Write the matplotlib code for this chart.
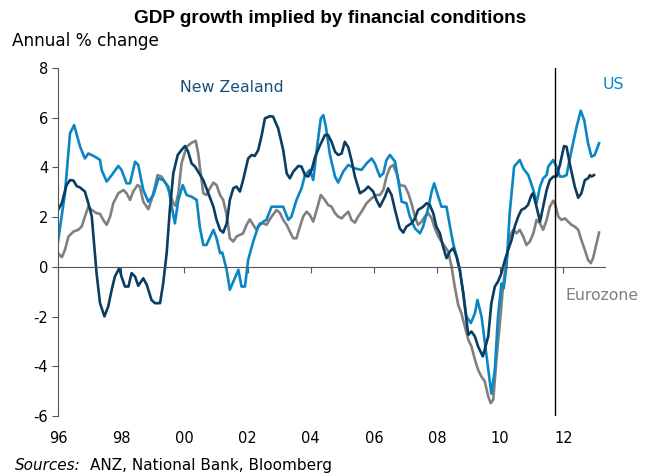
import matplotlib
matplotlib.use("Agg")
import matplotlib.pyplot as plt

plt.rcParams['axes.unicode_minus'] = False
plt.rcParams['font.family'] = ['DejaVu Sans']

# values (year, annual % change)
us_x = [1996.00, 1996.22, 1996.38, 1996.51, 1996.70, 1996.85, 1996.96, 1997.17, 1997.33, 1997.38,
        1997.54, 1997.70, 1997.91, 1998.01, 1998.17, 1998.28, 1998.44, 1998.54, 1998.70, 1998.86,
        1999.02, 1999.18, 1999.33, 1999.49, 1999.60, 1999.70, 1999.81, 1999.95, 2000.07, 2000.23,
        2000.39, 2000.49, 2000.60, 2000.70, 2000.92, 2001.02, 2001.13, 2001.20, 2001.34, 2001.44,
        2001.55, 2001.71, 2001.81, 2001.92, 2002.02, 2002.18, 2002.34, 2002.50, 2002.60, 2002.76,
        2002.92, 2003.13, 2003.29, 2003.39, 2003.55, 2003.71, 2003.82, 2003.97, 2004.08, 2004.19,
        2004.32, 2004.40, 2004.48, 2004.61, 2004.77, 2004.87, 2005.03, 2005.19, 2005.40, 2005.61,
        2005.77, 2005.93, 2006.03, 2006.19, 2006.30, 2006.40, 2006.51, 2006.67, 2006.77, 2006.88,
        2007.03, 2007.14, 2007.30, 2007.46, 2007.56, 2007.72, 2007.83, 2007.91, 2008.04, 2008.14,
        2008.30, 2008.41, 2008.51, 2008.62, 2008.72, 2008.83, 2008.93, 2009.07, 2009.20, 2009.28,
        2009.41, 2009.57, 2009.72, 2009.83, 2009.93, 2010.04, 2010.11, 2010.20, 2010.30, 2010.38,
        2010.44, 2010.62, 2010.73, 2010.89, 2011.05, 2011.15, 2011.26, 2011.36, 2011.47, 2011.52,
        2011.68, 2011.78, 2011.89, 2011.99, 2012.10, 2012.26, 2012.42, 2012.55, 2012.66, 2012.78,
        2012.89, 2012.99, 2013.13]
us_y = [1.02, 2.96, 5.37, 5.70, 4.83, 4.36, 4.56, 4.43, 4.30, 3.90,
        3.43, 3.69, 4.06, 3.90, 3.36, 3.36, 4.23, 4.10, 3.09, 2.62,
        2.89, 3.56, 3.49, 3.23, 2.42, 1.75, 2.69, 3.29, 2.89, 2.82,
        2.69, 1.60, 0.88, 0.88, 1.49, 1.15, 0.55, 0.58, -0.12, -0.92,
        -0.59, -0.12, -0.79, -0.79, 0.28, 1.02, 1.62, 1.82, 1.89, 2.42,
        2.42, 2.42, 1.89, 2.02, 2.69, 3.16, 3.69, 3.90, 3.49, 4.70,
        5.97, 6.10, 5.64, 4.50, 3.63, 3.39, 3.83, 4.10, 3.96, 3.90,
        4.16, 4.36, 4.16, 3.63, 3.76, 4.30, 4.50, 4.23, 3.49, 2.62,
        2.56, 2.02, 1.55, 1.35, 1.62, 2.36, 3.03, 3.36, 2.82, 2.42,
        2.42, 1.62, 0.95, 0.41, -0.12, -1.06, -1.99, -2.26, -1.86, -1.33,
        -2.00, -3.60, -5.10, -4.14, -2.00, -0.67, -0.86, 0.01, 2.16, 3.23,
        4.03, 4.30, 3.96, 3.69, 3.09, 2.56, 3.23, 3.56, 3.69, 4.03,
        4.30, 4.03, 3.63, 3.63, 3.69, 4.70, 5.64, 6.28, 5.90, 4.97,
        4.43, 4.50, 4.97]

nz_x = [1996.00, 1996.12, 1996.27, 1996.38, 1996.49, 1996.59, 1996.70, 1996.85, 1996.96, 1997.07,
        1997.15, 1997.22, 1997.33, 1997.47, 1997.59, 1997.70, 1997.80, 1997.94, 1998.01, 1998.12,
        1998.23, 1998.33, 1998.44, 1998.54, 1998.70, 1998.81, 1998.96, 1999.07, 1999.23, 1999.33,
        1999.44, 1999.54, 1999.65, 1999.79, 1999.91, 2000.02, 2000.12, 2000.23, 2000.34, 2000.47,
        2000.60, 2000.76, 2000.92, 2001.02, 2001.13, 2001.23, 2001.34, 2001.44, 2001.55, 2001.65,
        2001.76, 2001.86, 2002.02, 2002.13, 2002.23, 2002.34, 2002.45, 2002.55, 2002.71, 2002.81,
        2002.97, 2003.13, 2003.24, 2003.34, 2003.45, 2003.61, 2003.71, 2003.82, 2003.92, 2004.03,
        2004.14, 2004.30, 2004.45, 2004.55, 2004.66, 2004.77, 2004.87, 2004.98, 2005.08, 2005.19,
        2005.29, 2005.40, 2005.56, 2005.72, 2005.82, 2005.98, 2006.08, 2006.19, 2006.35, 2006.45,
        2006.56, 2006.67, 2006.82, 2006.93, 2007.03, 2007.19, 2007.30, 2007.40, 2007.56, 2007.67,
        2007.77, 2007.88, 2007.98, 2008.09, 2008.19, 2008.30, 2008.41, 2008.51, 2008.62, 2008.72,
        2008.83, 2008.93, 2008.99, 2009.09, 2009.20, 2009.30, 2009.45, 2009.62, 2009.72, 2009.83,
        2009.93, 2010.04, 2010.15, 2010.25, 2010.36, 2010.46, 2010.57, 2010.67, 2010.78, 2010.88,
        2010.99, 2011.04, 2011.15, 2011.26, 2011.36, 2011.47, 2011.57, 2011.68, 2011.78, 2011.89,
        2012.02, 2012.10, 2012.20, 2012.36, 2012.47, 2012.57, 2012.68, 2012.78, 2012.84, 2012.89,
        2012.97]
nz_y = [2.29, 2.56, 3.29, 3.49, 3.47, 3.25, 3.19, 3.03, 2.56, 2.02,
        0.82, -0.25, -1.46, -1.99, -1.59, -0.92, -0.39, -0.05, -0.39, -0.79,
        -0.79, -0.25, -0.39, -0.76, -0.46, -0.72, -1.33, -1.46, -1.46, -0.66,
        0.55, 2.29, 3.76, 4.50, 4.70, 4.86, 4.63, 4.16, 4.03, 3.76,
        3.49, 2.96, 2.42, 1.89, 1.49, 1.38, 1.75, 2.69, 3.16, 3.23,
        3.03, 3.49, 4.36, 4.50, 4.46, 4.70, 5.30, 5.97, 6.06, 6.04,
        5.57, 4.70, 3.76, 3.56, 3.83, 4.06, 4.03, 3.69, 3.63, 3.90,
        4.43, 4.90, 5.30, 5.30, 5.03, 4.63, 4.50, 4.56, 5.03, 4.81,
        4.30, 3.63, 2.96, 3.09, 3.23, 3.03, 2.69, 2.42, 2.82, 3.16,
        2.89, 2.29, 1.55, 1.38, 1.62, 1.75, 1.95, 2.29, 2.42, 2.56,
        2.49, 2.16, 1.62, 1.35, 0.82, 0.35, 0.62, 0.75, 0.41, -0.12,
        -1.06, -2.13, -2.73, -2.60, -2.80, -3.20, -3.60, -2.80, -1.46, -0.79,
        -0.59, -0.25, 0.28, 0.68, 1.08, 1.62, 2.02, 2.29, 2.36, 2.49,
        2.89, 2.96, 2.42, 1.82, 2.42, 3.09, 3.49, 3.63, 3.63, 4.10,
        4.86, 4.83, 4.16, 3.23, 2.78, 2.96, 3.49, 3.56, 3.69, 3.63,
        3.69]

ez_x = [1996.00, 1996.12, 1996.22, 1996.33, 1996.49, 1996.64, 1996.75, 1996.85, 1996.96, 1997.07,
        1997.22, 1997.33, 1997.43, 1997.54, 1997.65, 1997.75, 1997.91, 1998.07, 1998.17, 1998.28,
        1998.38, 1998.52, 1998.59, 1998.70, 1998.86, 1998.96, 1999.07, 1999.15, 1999.28, 1999.44,
        1999.54, 1999.65, 1999.72, 1999.81, 1999.91, 2000.07, 2000.23, 2000.36, 2000.44, 2000.49,
        2000.60, 2000.70, 2000.81, 2000.92, 2001.02, 2001.13, 2001.23, 2001.34, 2001.44, 2001.55,
        2001.65, 2001.76, 2001.86, 2001.97, 2002.07, 2002.18, 2002.28, 2002.39, 2002.50, 2002.60,
        2002.76, 2002.92, 2003.03, 2003.13, 2003.24, 2003.34, 2003.45, 2003.55, 2003.66, 2003.76,
        2003.87, 2003.97, 2004.08, 2004.19, 2004.32, 2004.45, 2004.55, 2004.66, 2004.77, 2004.87,
        2004.98, 2005.08, 2005.19, 2005.29, 2005.40, 2005.50, 2005.61, 2005.77, 2005.93, 2006.08,
        2006.19, 2006.30, 2006.40, 2006.51, 2006.61, 2006.72, 2006.82, 2006.98, 2007.09, 2007.19,
        2007.30, 2007.40, 2007.51, 2007.61, 2007.72, 2007.83, 2007.93, 2008.04, 2008.14, 2008.25,
        2008.35, 2008.46, 2008.56, 2008.67, 2008.77, 2008.88, 2008.99, 2009.09, 2009.20, 2009.30,
        2009.40, 2009.51, 2009.62, 2009.70, 2009.78, 2009.88, 2009.99, 2010.09, 2010.20, 2010.30,
        2010.41, 2010.52, 2010.62, 2010.73, 2010.83, 2010.94, 2011.05, 2011.15, 2011.26, 2011.36,
        2011.47, 2011.57, 2011.68, 2011.73, 2011.84, 2011.94, 2012.05, 2012.15, 2012.26, 2012.36,
        2012.47, 2012.57, 2012.68, 2012.78, 2012.87, 2012.94, 2013.05, 2013.13]
ez_y = [0.55, 0.39, 0.68, 1.22, 1.42, 1.49, 1.62, 2.02, 2.42, 2.29,
        2.16, 2.13, 1.89, 1.69, 2.02, 2.56, 2.96, 3.09, 2.96, 2.69,
        3.03, 3.29, 3.23, 2.62, 2.32, 2.69, 3.23, 3.69, 3.63, 3.29,
        2.96, 2.56, 2.45, 2.96, 4.16, 4.83, 4.99, 5.07, 4.56, 4.03,
        2.96, 2.89, 3.16, 3.39, 3.29, 2.89, 2.69, 2.09, 1.15, 1.02,
        1.22, 1.29, 1.35, 1.69, 1.91, 1.69, 1.49, 1.75, 1.75, 1.69,
        2.02, 2.29, 2.16, 1.89, 1.69, 1.42, 1.15, 1.15, 1.62, 2.02,
        2.22, 2.09, 1.82, 2.29, 2.89, 2.69, 2.49, 2.42, 2.16, 2.02,
        1.95, 2.09, 2.22, 1.89, 1.78, 2.02, 2.22, 2.56, 2.76, 2.89,
        2.89, 3.09, 3.63, 4.00, 4.10, 3.76, 3.29, 3.25, 2.96, 2.56,
        2.02, 1.69, 1.82, 2.02, 2.16, 1.95, 1.55, 1.22, 1.02, 0.82,
        0.62, 0.01, -0.79, -1.53, -1.86, -2.40, -2.93, -3.20, -3.73, -4.14,
        -4.40, -4.60, -5.21, -5.48, -5.34, -3.73, -2.26, -0.79, 0.28, 1.22,
        1.49, 1.35, 1.49, 1.22, 0.88, 1.02, 1.35, 1.89, 1.75, 1.49,
        1.89, 2.42, 2.66, 2.56, 2.02, 1.89, 1.95, 1.82, 1.69, 1.62,
        1.49, 1.08, 0.68, 0.28, 0.15, 0.35, 0.95, 1.38]

year_ticks = [1996, 1998, 2000, 2002, 2004, 2006, 2008, 2010, 2012]
year_labels = ['96', '98', '00', '02', '04', '06', '08', '10', '12']
y_ticks = [-6, -4, -2, 0, 2, 4, 6, 8]
marker_year = 2011.73

c_nz = '#0b3d62'
c_us = '#0a86c4'
c_ez = '#808080'

fig = plt.figure(figsize=(6.54, 4.75), dpi=100)
ax = fig.add_axes([0.0887, 0.124, 0.836, 0.733])

ax.plot(ez_x, ez_y, color=c_ez, lw=1.9, solid_joinstyle='round')
ax.plot(us_x, us_y, color=c_us, lw=1.9, solid_joinstyle='round')
ax.plot(nz_x, nz_y, color=c_nz, lw=1.9, solid_joinstyle='round')
ax.axvline(marker_year, color='black', lw=1.0)

ax.set_xlim(1996, 2013.31)
ax.set_ylim(-6, 8)

for s in ['top', 'right']:
    ax.spines[s].set_visible(False)
ax.spines['left'].set_color('#555555')
ax.spines['bottom'].set_position(('data', 0))
ax.spines['bottom'].set_color('#555555')

ax.set_yticks(y_ticks)
ax.set_yticklabels([str(v) for v in y_ticks])
ax.tick_params(axis='y', direction='out', length=4, color='#555555', labelsize=10.5, pad=3)
ax.set_xticks(year_ticks)
ax.tick_params(axis='x', direction='out', length=4, color='#555555', labelbottom=False)

# year labels sit at the foot of the plot, not on the zero line
sec = ax.secondary_xaxis('bottom')
sec.set_xticks(year_ticks)
sec.set_xticklabels(year_labels)
sec.tick_params(length=0, labelsize=10.5, pad=11)
sec.spines['bottom'].set_visible(False)

fig.text(0.505, 0.962, 'GDP growth implied by financial conditions', ha='center', va='center',
         fontsize=13.7, fontweight='bold', family='Liberation Sans')
fig.text(0.019, 0.914, 'Annual % change', ha='left', va='center', fontsize=12.2)
fig.text(0.023, 0.021, 'Sources:', ha='left', va='center', fontsize=11, style='italic')
fig.text(0.138, 0.021, 'ANZ, National Bank, Bloomberg', ha='left', va='center', fontsize=11)

ax.text(1999.86, 7.23, 'New Zealand', color='#1a4e78', fontsize=11.3, va='center')
ax.text(2013.25, 7.35, 'US', color=c_us, fontsize=11.3, va='center')
ax.text(2012.08, -1.16, 'Eurozone', color=c_ez, fontsize=11.3, va='center')

fig.savefig('out.png', dpi=100)
